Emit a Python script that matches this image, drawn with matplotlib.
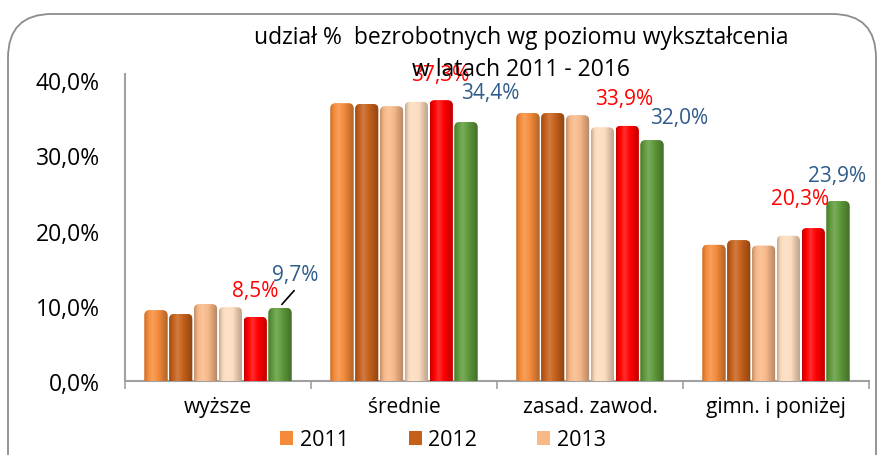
import numpy as np
import matplotlib
matplotlib.use("Agg")
import matplotlib.pyplot as plt
from matplotlib.patches import FancyBboxPatch
from matplotlib.colors import to_rgb

plt.rcParams['font.family'] = ['Open Sans', 'DejaVu Sans']

categories = ["wyższe", "średnie", "zasad. zawod.", "gimn. i poniżej"]
years = ["2011", "2012", "2013", "2014", "2015", "2016"]
values = {
    "2011": [9.4, 36.9, 35.6, 18.1],
    "2012": [8.9, 36.8, 35.6, 18.7],
    "2013": [10.2, 36.5, 35.3, 18.0],
    "2014": [9.8, 37.1, 33.7, 19.3],
    "2015": [8.5, 37.3, 33.9, 20.3],
    "2016": [9.7, 34.4, 32.0, 23.9],
}
colors = ["#F58B3A", "#C5601A", "#F8B888", "#FCDCBE", "#FF0000", "#5E9A3A"]
labeled_years = {"2015": "#FF0000", "2016": "#2F5C8A"}
# label offsets in pixels (layout only)
label_offsets = {
    "2015": [(0, 27), (-1, 26), (-3, 27), (-13, 30)],
    "2016": [(15, 34), (24, 30), (27, 23), (-1, 26)],
}

fig = plt.figure(figsize=(8.77, 4.56), dpi=100)
ax = fig.add_axes([125/877, 1-382/456, (869-125)/877, (382-75)/456])
ax.set_xlim(-0.5, 3.5)
ax.set_ylim(0, 40.8)

# rounded frame
frame = FancyBboxPatch((8/877, -0.2), (876-8)/877, 1.2 - 15/456,
                       boxstyle="round,pad=0,rounding_size=0.05",
                       transform=fig.transFigure, fill=False,
                       edgecolor="#8C8C8C", linewidth=1.3, mutation_aspect=877/456)
fig.patches.append(frame)

x = np.arange(len(categories))
n = len(years)
slot = 0.8 / n
bw = slot * 0.93

# pixel -> data conversions for rounded caps
px_x = 4.0 / 744.0
px_y = 40.8 / 307.0

def shade(base, m):
    b = np.array(to_rgb(base))
    if m >= 1:
        return b + (1 - b) * (m - 1)
    return b * m

profile_x = np.linspace(0, 1, 40)
profile = np.interp(profile_x, [0, 0.12, 0.35, 0.7, 1.0], [0.78, 0.95, 1.18, 0.92, 0.72])

handles = []
for i, (yr, col) in enumerate(zip(years, colors)):
    pos = x - 0.4 + slot * (i + 0.5)
    bars = ax.bar(pos, values[yr], width=bw, color=col, edgecolor="none", zorder=2, label=yr)
    handles.append(bars)
    for b in bars:
        r = 5 * px_x
        cap = FancyBboxPatch((b.get_x(), -2), b.get_width(), b.get_height() + 2,
                             boxstyle=f"round,pad=0,rounding_size={r}",
                             mutation_aspect=px_y / px_x, transform=ax.transData,
                             facecolor="none", edgecolor="none")
        ax.add_patch(cap)
        b.set_clip_path(cap)
        grad = np.array([[np.clip(shade(col, m), 0, 1) for m in profile]])
        im = ax.imshow(grad, extent=(b.get_x(), b.get_x() + b.get_width(), 0, b.get_height()),
                       aspect='auto', zorder=3, interpolation='bilinear')
        im.set_clip_path(cap)
    if yr in labeled_years:
        for j, (px, v) in enumerate(zip(pos, values[yr])):
            dx, dy = label_offsets[yr][j]
            ax.annotate(f"{v:.1f}%".replace(".", ","), xy=(px, v), xytext=(dx, dy),
                        textcoords="offset pixels", ha="center", va="center",
                        color=labeled_years[yr], fontsize=15, zorder=5, annotation_clip=False)

# leader line for 9,7% label
p16 = x[0] - 0.4 + slot * 5.5
ax.annotate("", xy=(p16, values["2016"][0] + 0.2), xytext=(16, 18), textcoords="offset pixels",
            arrowprops=dict(arrowstyle="-", color="black", lw=1.2), zorder=6)

ax.set_xlim(-0.5, 3.5)
ax.set_ylim(0, 40.8)
ax.set_yticks([0, 10, 20, 30, 40])
ax.set_yticklabels(["0,0%", "10,0%", "20,0%", "30,0%", "40,0%"], fontsize=16.5)
ax.tick_params(axis='y', length=0, pad=18)
ax.set_xticks(x)
ax.set_xticklabels(categories, fontsize=15)
ax.tick_params(axis='x', length=0, pad=11)
ax.set_xticks(np.arange(-0.5, 4.0, 1.0), minor=True)
ax.tick_params(axis='x', which='minor', length=6, color="#A0A0A0", width=1.2)
for s in ["top", "right"]:
    ax.spines[s].set_visible(False)
for s in ["left", "bottom"]:
    ax.spines[s].set_color("#A0A0A0")
    ax.spines[s].set_linewidth(1.5)

fig.text(521/877, 1-38/456, "udział %  bezrobotnych wg poziomu wykształcenia", ha="center",
         va="center", fontsize=16.5, color="black", zorder=10)
fig.text(521/877, 1-70/456, "w latach 2011 - 2016", ha="center", va="center", fontsize=16.5,
         color="black", zorder=10)

leg = fig.legend(handles=handles[:3], labels=years[:3], loc="center", ncol=3,
                 bbox_to_anchor=(443/877, 1-441/456), frameon=False, fontsize=15.5,
                 handlelength=0.6, handleheight=0.6, handletextpad=0.3, columnspacing=2.8)

fig.savefig("out.png", dpi=100)
